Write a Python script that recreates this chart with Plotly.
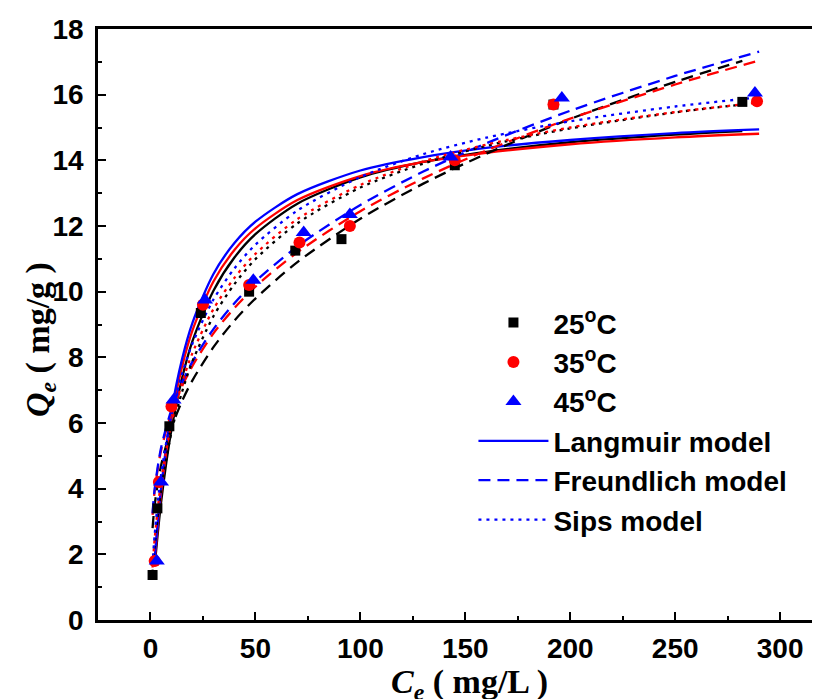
import plotly.graph_objects as go

# ---- experimental data (Ce mg/L, Qe mg/g) ----
ce_25 = [1, 3.3, 9, 24, 47, 69, 91, 145, 192, 282]
qe_25 = [1.37, 3.4, 5.9, 9.35, 10.0, 11.25, 11.6, 13.85, 15.7, 15.78]
ce_35 = [2, 4, 10, 25, 47, 71, 95, 145, 192, 289]
qe_35 = [1.8, 4.2, 6.5, 9.6, 10.2, 11.5, 12.0, 14.0, 15.7, 15.8]
ce_45 = [3, 5, 11, 26, 49, 73, 95, 143, 196, 288]
qe_45 = [1.8, 4.2, 6.7, 9.75, 10.35, 11.8, 12.35, 14.1, 15.9, 16.05]

# ---- model curves ----
c_grid = [2, 5, 10, 15, 20, 30, 40, 50, 70, 100, 130, 160, 200, 250, 290]
c_grid_25 = [2, 5, 10, 15, 20, 30, 40, 50, 70, 100, 130, 160, 200, 250, 282]
c_gridf = [1, 2, 5, 10, 15, 20, 30, 40, 50, 70, 100, 130, 160, 200, 250, 290]
c_gridf_25 = [1, 2, 5, 10, 15, 20, 30, 40, 50, 70, 100, 130, 160, 200, 250, 282]

lang_25 = [1.64, 3.55, 5.80, 7.35, 8.49, 10.03, 11.04, 11.75, 12.68, 13.48, 13.95, 14.26, 14.55, 14.78, 14.89]
lang_35 = [1.79, 3.83, 6.15, 7.70, 8.82, 10.31, 11.27, 11.93, 12.79, 13.52, 13.95, 14.23, 14.49, 14.70, 14.81]
lang_45 = [1.88, 3.98, 6.36, 7.93, 9.05, 10.54, 11.48, 12.13, 12.97, 13.69, 14.10, 14.38, 14.62, 14.83, 14.94]

freu_25 = [2.80, 3.50, 4.69, 5.85, 6.66, 7.30, 8.31, 9.12, 9.79, 10.90, 12.22, 13.29, 14.20, 15.26, 16.39, 17.03]
freu_35 = [3.20, 3.93, 5.15, 6.31, 7.11, 7.74, 8.73, 9.50, 10.15, 11.20, 12.45, 13.45, 14.30, 15.27, 16.31, 17.04]
freu_45 = [3.25, 3.99, 5.23, 6.41, 7.22, 7.87, 8.86, 9.65, 10.31, 11.38, 12.64, 13.66, 14.52, 15.51, 16.57, 17.31]

sips_25 = [1.44, 2.26, 3.93, 5.72, 6.94, 7.88, 9.25, 10.23, 10.99, 12.08, 13.17, 13.90, 14.44, 14.97, 15.46, 15.70]
sips_35 = [1.60, 2.47, 4.19, 5.99, 7.21, 8.13, 9.47, 10.42, 11.15, 12.21, 13.25, 13.97, 14.48, 15.00, 15.47, 15.76]
sips_45 = [1.69, 2.60, 4.40, 6.24, 7.48, 8.42, 9.76, 10.71, 11.43, 12.47, 13.49, 14.19, 14.69, 15.19, 15.64, 15.92]

x_ticks = [0, 50, 100, 150, 200, 250, 300]
y_ticks = [0, 2, 4, 6, 8, 10, 12, 14, 16, 18]

BLACK, RED, BLUE = "#000000", "#ff0000", "#0000ff"
DASH, DOT = "12px,7px", "3px,5px"
fig = go.Figure()

curves = [
    (c_grid_25, lang_25, BLACK, "solid", None),
    (c_grid, lang_35, RED, "solid", None),
    (c_grid, lang_45, BLUE, "solid", "Langmuir model"),
    (c_gridf_25, freu_25, BLACK, DASH, None),
    (c_gridf, freu_35, RED, DASH, None),
    (c_gridf, freu_45, BLUE, DASH, "Freundlich model"),
    (c_gridf_25, sips_25, BLACK, DOT, None),
    (c_gridf, sips_35, RED, DOT, None),
    (c_gridf, sips_45, BLUE, DOT, "Sips model"),
]
rank = {"Langmuir model": 4, "Freundlich model": 5, "Sips model": 6}
for xs, ys, col, dash, name in curves:
    fig.add_trace(go.Scatter(
        x=xs, y=ys, mode="lines", line=dict(color=col, width=2.3, dash=dash, shape="spline", smoothing=0.8),
        name=name or "", showlegend=name is not None,
        legendgroup=name or None, legendrank=rank.get(name, 100),
    ))

markers = [
    (ce_25, qe_25, BLACK, "square", 10, "25<sup>o</sup>C", 1),
    (ce_35, qe_35, RED, "circle", 12, "35<sup>o</sup>C", 2),
    (ce_45, qe_45, BLUE, "triangle-up", 14, "45<sup>o</sup>C", 3),
]
for xs, ys, col, sym, sz, name, r in markers:
    fig.add_trace(go.Scatter(
        x=xs, y=ys, mode="markers", marker=dict(color=col, symbol=sym, size=sz),
        name=name, legendgroup=name, legendrank=r,
    ))

axis_common = dict(
    showline=True, linecolor="black", linewidth=2.5,
    ticks="inside", ticklen=8, tickwidth=2, tickcolor="black",
    showgrid=False, zeroline=False,
    tickfont=dict(family="Liberation Sans, Arial", size=28, color="black", weight="bold"),
)
fig.update_xaxes(
    range=[-25, 319], tickvals=x_ticks, mirror=True,
    minor=dict(dtick=25, tick0=0, ticks="inside", ticklen=4, tickwidth=2, tickcolor="black"),
    ticklabelstandoff=2,
    **axis_common,
)
fig.update_yaxes(
    range=[0, 18], tickvals=y_ticks,
    minor=dict(dtick=1, tick0=0, ticks="inside", ticklen=4, tickwidth=2, tickcolor="black"),
    ticklabelstandoff=6,
    **axis_common,
)
title_font = dict(family="Liberation Serif, Times New Roman", size=34, color="black", weight="bold")
fig.add_annotation(
    text="<i>Q</i><sub><i>e</i></sub> ( mg/g )", textangle=-90,
    xref="paper", yref="paper", x=-0.080, y=0.474, xanchor="center", yanchor="middle",
    showarrow=False, font=title_font,
)
fig.add_annotation(
    text="<i>C</i><sub><i>e</i></sub> ( mg/L )",
    xref="paper", yref="paper", x=0.515, y=-0.108, xanchor="center", yanchor="middle",
    showarrow=False, font=title_font,
)
fig.update_layout(
    width=812, height=691,
    margin=dict(l=90, r=0, t=21, b=79),
    plot_bgcolor="white", paper_bgcolor="white",
    legend=dict(
        x=0.52, y=0.545, xanchor="left", yanchor="top",
        bgcolor="rgba(0,0,0,0)", itemwidth=70, tracegroupgap=0,
        font=dict(family="Liberation Sans, Arial", size=28, color="black", weight="bold"),
    ),
)
fig.write_html("out.html")
